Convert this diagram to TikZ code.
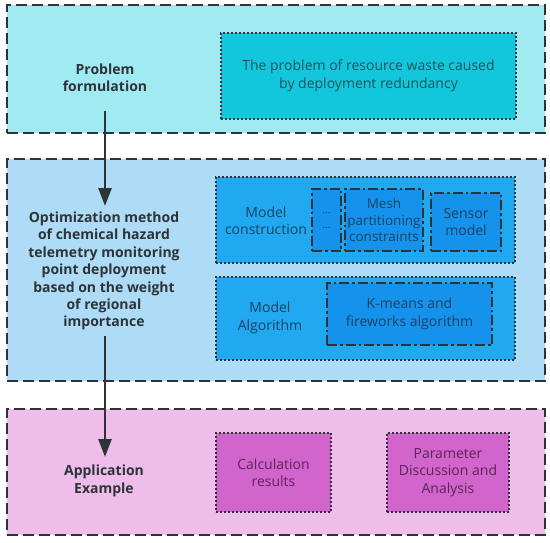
\documentclass[tikz,border=0pt]{standalone}
\usepackage{fontspec}
\setmainfont{Open Sans}
\usetikzlibrary{arrows.meta}
\definecolor{topbg}{HTML}{A0EBF2}
\definecolor{topin}{HTML}{12C7DC}
\definecolor{midbg}{HTML}{AEDCF6}
\definecolor{midin}{HTML}{20A9F0}
\definecolor{midsub}{HTML}{1592EC}
\definecolor{botbg}{HTML}{EEBDEA}
\definecolor{botin}{HTML}{D165CC}
\definecolor{edge}{HTML}{2E3338}
\definecolor{ttop}{HTML}{1A545C}
\definecolor{tmid}{HTML}{1B4262}
\definecolor{tbot}{HTML}{5E2459}
\tikzset{
  panel/.style={draw=edge, line width=2.2pt, dash pattern=on 11pt off 5pt, inner sep=0pt},
  inbox/.style={draw=edge, line width=2pt, dash pattern=on 2pt off 2pt, inner sep=0pt},
  subbox/.style={draw=edge, line width=2pt, dash pattern=on 10pt off 3pt on 2.5pt off 3pt, inner sep=0pt, fill=midsub},
  lbl/.style={font=\fontsize{14}{17.4}\selectfont\bfseries, text=edge, align=center},
  txt/.style={font=\fontsize{14}{17.4}\selectfont, align=center},
  flow/.style={draw=edge, line width=2.6pt, -{Triangle[length=18pt,width=13pt]}}
}
\begin{document}
\begin{tikzpicture}[x=1pt,y=-1pt]
\useasboundingbox (0,0) rectangle (550,542);
% top panel
\node[panel, fill=topbg, minimum width=538pt, minimum height=128pt] (top) at (276,69) {};
\node[inbox, fill=topin, minimum width=295pt, minimum height=86pt, txt, text=ttop] (prob) at (368.5,76) {The problem of resource waste caused\\by deployment redundancy};
\node[lbl] (pf) at (105,78) {Problem\\formulation};
% middle panel
\node[panel, fill=midbg, minimum width=538pt, minimum height=222pt] (mid) at (276,270) {};
\node[inbox, fill=midin, minimum width=299pt, minimum height=86pt] (mc) at (365.5,220) {};
\node[inbox, fill=midin, minimum width=299pt, minimum height=83pt] (ma) at (365.5,318.5) {};
\node[subbox, minimum width=29pt, minimum height=62pt, txt, text=tmid, font=\fontsize{10}{15}\selectfont] (dots) at (326.5,220) {...\\...};
\node[subbox, minimum width=78pt, minimum height=62pt, txt, text=tmid, font=\fontsize{13.5}{16.5}\selectfont] (mesh) at (384,220) {Mesh\\partitioning\\constraints};
\node[subbox, minimum width=70pt, minimum height=58pt, txt, text=tmid] (sensor) at (466,222) {Sensor\\model};
\node[subbox, minimum width=165pt, minimum height=62pt, txt, text=tmid] (km) at (409.5,314) {K-means and\\fireworks algorithm};
\node[txt, text=tmid] (mct) at (266,221) {Model\\construction};
\node[txt, text=tmid] (mat) at (270,318) {Model\\Algorithm};
\node[lbl] (om) at (104,271) {Optimization method\\of chemical hazard\\telemetry monitoring\\point deployment\\based on the weight\\of regional\\importance};
% bottom panel
\node[panel, fill=botbg, minimum width=538pt, minimum height=126pt] (bot) at (276,472) {};
\node[inbox, fill=botin, minimum width=115pt, minimum height=79pt, txt, text=tbot] (calc) at (273.5,472.5) {Calculation\\results};
\node[inbox, fill=botin, minimum width=122pt, minimum height=79pt, txt, text=tbot] (param) at (448,472.5) {Parameter\\Discussion and\\Analysis};
\node[lbl] (ae) at (104,481) {Application\\Example};
% arrows
\coordinate (a1s) at (105,111);
\coordinate (a1e) at (105,206);
\coordinate (a2s) at (105,336);
\coordinate (a2e) at (105,457);
\draw[flow] (a1s) -- (a1e);
\draw[flow] (a2s) -- (a2e);
\end{tikzpicture}
\end{document}
